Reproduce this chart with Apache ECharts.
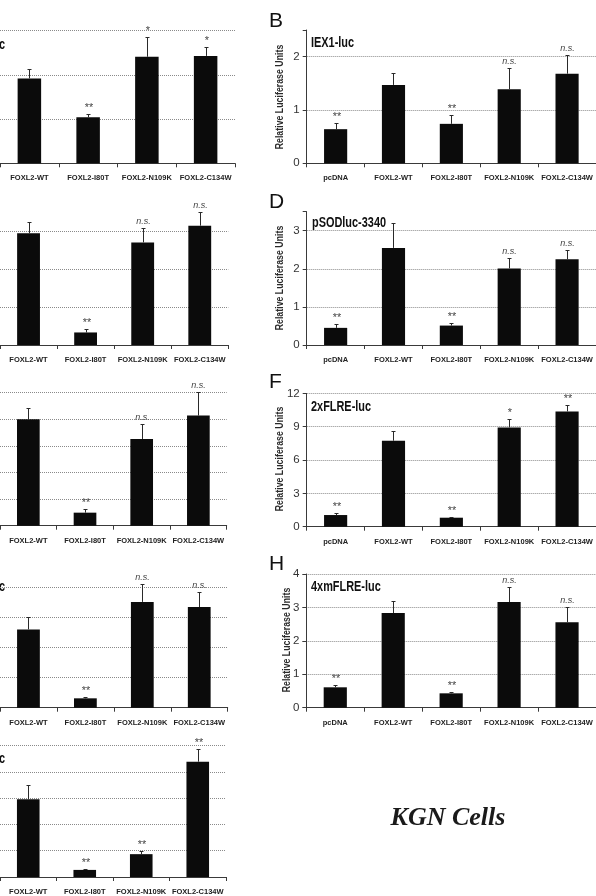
<!DOCTYPE html>
<html><head><meta charset="utf-8">
<script src="https://cdn.jsdelivr.net/npm/echarts@6/dist/echarts.min.js"></script>
<style>html,body{margin:0;padding:0;background:#fff}#c{width:596px;height:896px}</style>
</head><body><div id="c"></div>
<script>
// ---------- data ----------
const catsRight = ['pcDNA', 'FOXL2-WT', 'FOXL2-I80T', 'FOXL2-N109K', 'FOXL2-C134W'];
const catsLeft = ['FOXL2-WT', 'FOXL2-I80T', 'FOXL2-N109K', 'FOXL2-C134W'];

// left column (cropped panels)
const A_mean = [1.92, 1.04, 2.41, 2.43];
const A_sd   = [0.21, 0.07, 0.44, 0.19];
const A_sig  = ['', '**', '*', '*'];
const A_ticks = [0, 1, 2, 3];

const C_mean = [2.94, 0.33, 2.70, 3.14];
const C_sd   = [0.30, 0.08, 0.37, 0.37];
const C_sig  = ['', '**', 'n.s.', 'n.s.'];
const C_ticks = [0, 1, 2, 3];

const E_mean = [4.00, 0.49, 3.26, 4.14];
const E_sd   = [0.44, 0.14, 0.55, 0.90];
const E_sig  = ['', '**', 'n.s.', 'n.s.'];
const E_ticks = [0, 1, 2, 3, 4, 5];

const G_mean = [2.59, 0.31, 3.50, 3.33];
const G_sd   = [0.41, 0.05, 0.60, 0.50];
const G_sig  = ['', '**', 'n.s.', 'n.s.'];
const G_ticks = [0, 1, 2, 3, 4];

const I_mean = [2.96, 0.27, 0.87, 4.39];
const I_sd   = [0.54, 0.04, 0.12, 0.47];
const I_sig  = ['', '**', '**', '**'];
const I_ticks = [0, 1, 2, 3, 4, 5];

// right column
const B_title = 'IEX1-luc';
const B_mean = [0.64, 1.47, 0.74, 1.39, 1.68];
const B_sd   = [0.12, 0.23, 0.17, 0.39, 0.36];
const B_sig  = ['**', '', '**', 'n.s.', 'n.s.'];
const B_ticks = [0, 1, 2];

const D_title = 'pSODluc-3340';
const D_mean = [0.45, 2.55, 0.51, 2.01, 2.25];
const D_sd   = [0.09, 0.66, 0.06, 0.27, 0.24];
const D_sig  = ['**', '', '**', 'n.s.', 'n.s.'];
const D_ticks = [0, 1, 2, 3];

const F_title = '2xFLRE-luc';
const F_mean = [1.05, 7.74, 0.81, 8.94, 10.38];
const F_sd   = [0.15, 0.86, 0.09, 0.72, 0.57];
const F_sig  = ['**', '', '**', '*', '**'];
const F_ticks = [0, 3, 6, 9, 12];

const H_title = '4xmFLRE-luc';
const H_mean = [0.61, 2.83, 0.43, 3.16, 2.56];
const H_sd   = [0.06, 0.36, 0.05, 0.44, 0.44];
const H_sig  = ['**', '', '**', 'n.s.', 'n.s.'];
const H_ticks = [0, 1, 2, 3, 4];

const yName = 'Relative Luciferase Units';
const footnote = 'KGN Cells';

// ---------- layout ----------
const SANS = "'Liberation Sans', Arial, sans-serif";
const panels = [
  {cats: catsLeft, mean: A_mean, sd: A_sd, sig: A_sig, ticks: A_ticks, max: 3,   left: -5,   width: 240,   bottom: 163.3, height: 132.6, right: false, maxLine: true},
  {cats: catsLeft, mean: C_mean, sd: C_sd, sig: C_sig, ticks: C_ticks, max: 3.5, left: -5,   width: 233.3, bottom: 345,   height: 133,   right: false, maxLine: false},
  {cats: catsLeft, mean: E_mean, sd: E_sd, sig: E_sig, ticks: E_ticks, max: 5,   left: -6.6, width: 233.3, bottom: 525.7, height: 133,   right: false, maxLine: true},
  {cats: catsLeft, mean: G_mean, sd: G_sd, sig: G_sig, ticks: G_ticks, max: 4.4, left: -4.8, width: 232.5, bottom: 707.7, height: 133,   right: false, maxLine: false},
  {cats: catsLeft, mean: I_mean, sd: I_sd, sig: I_sig, ticks: I_ticks, max: 5,   left: -6.4, width: 232.4, bottom: 879,   height: 133.3, right: false, maxLine: true},
  {cats: catsRight, mean: B_mean, sd: B_sd, sig: B_sig, ticks: B_ticks, max: 2.5, left: 306.7, width: 289.3, bottom: 163.3, height: 133.3, right: true, maxLine: false},
  {cats: catsRight, mean: D_mean, sd: D_sd, sig: D_sig, ticks: D_ticks, max: 3.5, left: 306.7, width: 289.3, bottom: 345,   height: 133.3, right: true, maxLine: false},
  {cats: catsRight, mean: F_mean, sd: F_sd, sig: F_sig, ticks: F_ticks, max: 12,  left: 306.7, width: 291.5, bottom: 526.7, height: 133.3, right: true, maxLine: true},
  {cats: catsRight, mean: H_mean, sd: H_sd, sig: H_sig, ticks: H_ticks, max: 4,   left: 306.3, width: 295,   bottom: 707.7, height: 133.7, right: true, maxLine: true}
];

const grids = [], xAxes = [], yAxes = [], series = [];
panels.forEach((p, i) => {
  grids.push({left: p.left, top: p.bottom - p.height, width: p.width, height: p.height, containLabel: false});
  xAxes.push({
    type: 'category', gridIndex: i, data: p.cats,
    axisLine: {lineStyle: {color: '#3a3a3a', width: 1}},
    axisTick: {show: true, length: 4, lineStyle: {color: '#3a3a3a'}},
    axisLabel: {interval: 0, margin: 11, fontSize: 7.5, fontWeight: 'bold', fontFamily: SANS, color: '#222'},
    splitLine: {show: false}
  });
  const tickSet = p.ticks;
  yAxes.push({
    type: 'value', gridIndex: i, min: 0, max: p.max, interval: tickSet[1] - tickSet[0],
    axisLine: {show: p.right, lineStyle: {color: '#3a3a3a', width: 1}},
    axisTick: {show: p.right, length: 4, lineStyle: {color: '#3a3a3a'}},
    axisLabel: {show: p.right, margin: 7, fontSize: 11.5, fontFamily: SANS, color: '#333',
      formatter: v => (tickSet.indexOf(v) >= 0 ? String(v) : '')},
    splitLine: {show: true, showMinLine: false, showMaxLine: p.maxLine,
      lineStyle: {type: 'dotted', color: '#8a8a8a', width: 1}}
  });
  series.push({
    type: 'bar', xAxisIndex: i, yAxisIndex: i, data: p.mean, barWidth: '40%',
    itemStyle: {color: '#0b0b0b'}, silent: true, animation: false
  });
  const sig = p.sig;
  series.push({
    type: 'custom', xAxisIndex: i, yAxisIndex: i, z: 5, silent: true, animation: false,
    encode: {x: 0, y: 2},
    data: p.mean.map((m, k) => [k, m, m + p.sd[k]]),
    renderItem: function (params, api) {
      const base = api.coord([api.value(0), api.value(1)]);
      const top = api.coord([api.value(0), api.value(2)]);
      const x = Math.round(top[0]) + 0.5;
      const yt = Math.round(top[1]) + 0.5;
      const t = sig[params.dataIndex] || '';
      const star = t.indexOf('*') >= 0;
      return {type: 'group', children: [
        {type: 'line', shape: {x1: x, y1: base[1], x2: x, y2: yt}, style: {stroke: '#2a2a2a', lineWidth: 1}},
        {type: 'line', shape: {x1: x - 2, y1: yt, x2: x + 2, y2: yt}, style: {stroke: '#2a2a2a', lineWidth: 1}},
        {type: 'text', x: x, y: yt - (star ? 1 : 3), style: {text: t, fontSize: star ? 11 : 9, fontStyle: 'italic', fontFamily: SANS,
          fill: '#444', align: 'center', verticalAlign: 'bottom'}}
      ]};
    }
  });
});

function txt(x, y, text, font, opts) {
  opts = opts || {};
  return {type: 'text', x: x, y: y, silent: true,
    rotation: opts.rotation || 0, scaleX: opts.scaleX || 1,
    style: {text: text, font: font, fill: opts.fill || '#111', align: opts.align || 'left', verticalAlign: 'middle'}};
}
const LETTER = "21px " + SANS;
const TITLE = "bold 14px " + SANS;
const YNAME = "bold 11px " + SANS;
const sq = {scaleX: 0.78};
const yn = {rotation: Math.PI / 2, scaleX: 0.8, align: 'center', fill: '#2a2a2a'};
const graphics = [
  txt(269, 21, 'B', LETTER), txt(269, 202, 'D', LETTER), txt(269, 382, 'F', LETTER), txt(269, 564, 'H', LETTER),
  txt(311, 43, B_title, TITLE, sq), txt(312, 223, D_title, TITLE, sq), txt(311, 407, F_title, TITLE, sq), txt(311, 587, H_title, TITLE, sq),
  txt(280, 97, yName, YNAME, yn), txt(280, 278, yName, YNAME, yn), txt(280, 459, yName, YNAME, yn), txt(287, 640, yName, YNAME, yn),
  txt(5, 45, 'c', TITLE, {align: 'right', scaleX: 0.78}), txt(5, 587, 'c', TITLE, {align: 'right', scaleX: 0.78}), txt(5, 759, 'c', TITLE, {align: 'right', scaleX: 0.78}),
  {type: 'text', x: 448, y: 818, silent: true,
   style: {text: footnote, font: "italic bold 26px 'Liberation Serif', 'Book Antiqua', Palatino, serif",
     fill: '#1a1a1a', align: 'center', verticalAlign: 'middle'}}
];

const chart = echarts.init(document.getElementById('c'), null, {renderer: 'canvas', width: 596, height: 896});
chart.setOption({
  animation: false,
  backgroundColor: '#fff',
  grid: grids, xAxis: xAxes, yAxis: yAxes, series: series,
  graphic: graphics
});
</script></body></html>
